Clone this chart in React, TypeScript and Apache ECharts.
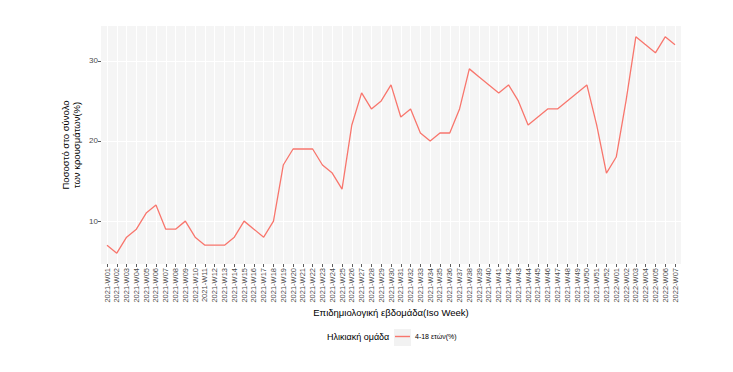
import React, { useEffect, useRef } from "react";
import * as echarts from "echarts";

const categories = [
  "2021-W01","2021-W02","2021-W03","2021-W04","2021-W05","2021-W06","2021-W07","2021-W08","2021-W09","2021-W10",
  "2021-W11","2021-W12","2021-W13","2021-W14","2021-W15","2021-W16","2021-W17","2021-W18","2021-W19","2021-W20",
  "2021-W21","2021-W22","2021-W23","2021-W24","2021-W25","2021-W26","2021-W27","2021-W28","2021-W29","2021-W30",
  "2021-W31","2021-W32","2021-W33","2021-W34","2021-W35","2021-W36","2021-W37","2021-W38","2021-W39","2021-W40",
  "2021-W41","2021-W42","2021-W43","2021-W44","2021-W45","2021-W46","2021-W47","2021-W48","2021-W49","2021-W50",
  "2021-W51","2021-W52","2022-W01","2022-W02","2022-W03","2022-W04","2022-W05","2022-W06","2022-W07",
];

const values = [
  7, 6, 8, 9, 11, 12, 9, 9, 10, 8,
  7, 7, 7, 8, 10, 9, 8, 10, 17, 19,
  19, 19, 17, 16, 14, 22, 26, 24, 25, 27,
  23, 24, 21, 20, 21, 21, 24, 29, 28, 27,
  26, 27, 25, 22, 23, 24, 24, 25, 26, 27,
  22, 16, 18, 25, 33, 32, 31, 33, 32,
];

const yTicks = [10, 20, 30];
const seriesName = "4-18 ετών(%)";
const legendTitle = "Ηλικιακή ομάδα";
const xTitle = "Επιδημιολογική εβδομάδα(Iso Week)";
const yTitle = "Ποσοστό στο σύνολο\nτων κρουσμάτων(%)";

const FONT = "'Liberation Sans', Arial, Helvetica, sans-serif";
const Y_MIN = 4.65;
const Y_MAX = 34.35;

export default function App() {
  const ref = useRef<HTMLDivElement>(null);
  useEffect(() => {
    if (!ref.current) return;
    const chart = echarts.init(ref.current, undefined, { renderer: "svg" });
    chart.setOption({
      animation: false,
      backgroundColor: "#ffffff",
      textStyle: { fontFamily: FONT },
      title: {
        text: legendTitle,
        left: 327,
        top: 332,
        textStyle: { fontSize: 9, fontWeight: "normal", color: "#000", fontFamily: FONT },
        padding: 0,
      },
      legend: {
        left: 395,
        top: 333,
        padding: 0,
        icon: "rect",
        itemWidth: 15,
        itemHeight: 1.4,
        itemGap: 4,
        data: [seriesName],
        itemStyle: { color: "#F8766D" },
        textStyle: { fontSize: 7, color: "#000", fontFamily: FONT },
      },
      graphic: [
        {
          type: "rect",
          left: 394,
          top: 329,
          z: -1,
          shape: { width: 17, height: 17 },
          style: { fill: "#F2F2F2" },
          silent: true,
        },
      ],
      grid: [
        { left: 101, right: 52, top: 26, bottom: 108, show: true, backgroundColor: "#F5F5F5", borderWidth: 0 },
        { left: 107, right: 58, top: 26, bottom: 108, show: false },
      ],
      xAxis: [
        { gridIndex: 0, type: "value", min: 0, max: 1, show: false },
        {
          gridIndex: 1,
          type: "category",
          data: categories,
          boundaryGap: false,
          axisLine: { show: false },
          axisTick: { show: true, length: 3, lineStyle: { color: "#333333", width: 0.8 } },
          axisLabel: {
            rotate: 90,
            interval: 0,
            fontSize: 7.5,
            color: "#4D4D4D",
            margin: 4,
            fontFamily: FONT,
          },
          splitLine: { show: true, lineStyle: { color: "#FFFFFF", width: 1 } },
          name: xTitle,
          nameLocation: "middle",
          nameGap: 43,
          nameMoveOverlap: false,
          nameTextStyle: { fontSize: 9.5, color: "#000", fontFamily: FONT },
        },
      ],
      yAxis: [
        {
          gridIndex: 0,
          type: "value",
          min: Y_MIN,
          max: Y_MAX,
          splitNumber: 6,
          axisLine: { show: false },
          axisTick: { show: true, length: 3, customValues: yTicks, lineStyle: { color: "#333333", width: 0.8 } },
          axisLabel: { customValues: yTicks, fontSize: 8, color: "#4D4D4D", margin: 3, fontFamily: FONT },
          splitLine: { show: true, lineStyle: { color: "#FFFFFF", width: 1 } },
          name: yTitle,
          nameLocation: "middle",
          nameGap: 19,
          nameMoveOverlap: false,
          nameTextStyle: { fontSize: 9.5, color: "#000", fontFamily: FONT, lineHeight: 11 },
        },
        { gridIndex: 1, type: "value", min: Y_MIN, max: Y_MAX, show: false },
      ],
      series: [
        {
          type: "line",
          name: seriesName,
          xAxisIndex: 1,
          yAxisIndex: 1,
          data: values,
          symbol: "none",
          lineStyle: { color: "#F8766D", width: 1.3 },
          itemStyle: { color: "#F8766D" },
        },
      ],
    });
    return () => chart.dispose();
  }, []);
  return (
    <div
      ref={ref}
      style={{ position: "fixed", left: 0, top: 0, width: 733, height: 372, background: "#fff" }}
    />
  );
}
